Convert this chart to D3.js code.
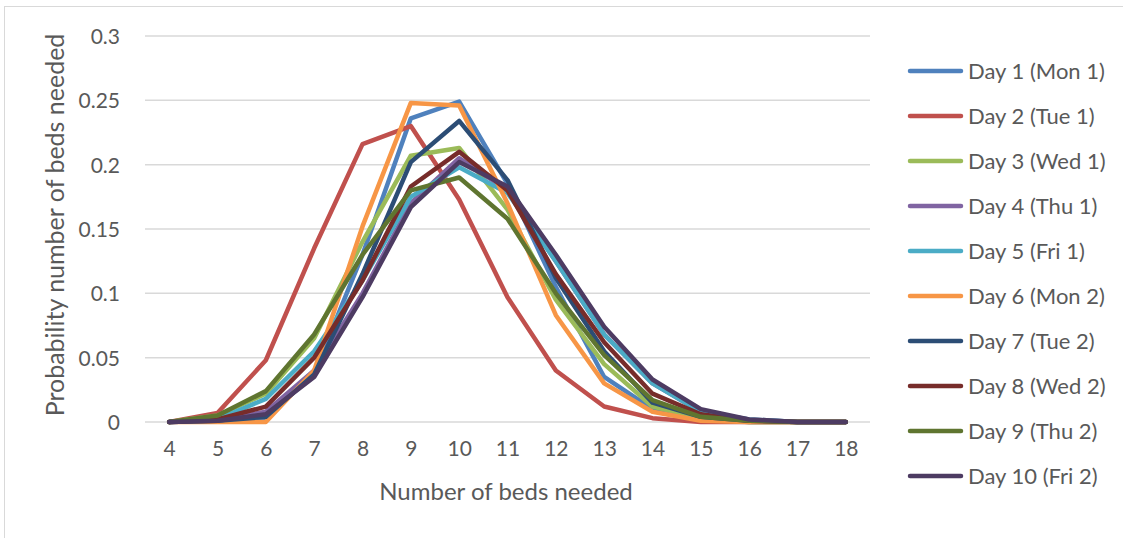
<!DOCTYPE html>
<html><head><meta charset="utf-8">
<script src="https://cdn.jsdelivr.net/npm/d3@7"></script>
<style>body{margin:0;background:#fff;} svg{display:block;} text{font-family:"Lato","Open Sans",sans-serif;fill:#595959;}</style>
</head><body>
<script>
const categories = [4,5,6,7,8,9,10,11,12,13,14,15,16,17,18];
const seriesNames = ["Day 1 (Mon 1)","Day 2 (Tue 1)","Day 3 (Wed 1)","Day 4 (Thu 1)","Day 5 (Fri 1)","Day 6 (Mon 2)","Day 7 (Tue 2)","Day 8 (Wed 2)","Day 9 (Thu 2)","Day 10 (Fri 2)"];
const colors = ["#4f81bd","#c0504d","#9bbb59","#8064a2","#4bacc6","#f79646","#2c4d75","#772c2a","#5f7530","#4d3b62"];
const day1  = [0,0.001,0.003,0.038,0.13,0.236,0.249,0.185,0.105,0.035,0.010,0.002,0,0,0];
const day2  = [0,0.007,0.048,0.135,0.216,0.230,0.173,0.097,0.040,0.012,0.003,0,0,0,0];
const day3  = [0,0.005,0.022,0.065,0.140,0.207,0.213,0.165,0.095,0.045,0.012,0.003,0,0,0];
const day4  = [0,0.001,0.008,0.040,0.100,0.170,0.205,0.180,0.125,0.068,0.030,0.008,0.002,0,0];
const day5  = [0,0.002,0.018,0.055,0.110,0.175,0.198,0.178,0.125,0.068,0.030,0.008,0.002,0,0];
const day6  = [0,0,0,0.040,0.152,0.248,0.246,0.170,0.083,0.030,0.008,0.001,0,0,0];
const day7  = [0,0.001,0.004,0.037,0.115,0.202,0.234,0.188,0.112,0.055,0.015,0.004,0.001,0,0];
const day8  = [0,0.002,0.012,0.050,0.110,0.183,0.210,0.180,0.115,0.062,0.022,0.006,0.001,0,0];
const day9  = [0,0.005,0.024,0.068,0.130,0.180,0.190,0.158,0.100,0.052,0.017,0.004,0.001,0,0];
const day10 = [0,0.001,0.006,0.035,0.097,0.167,0.202,0.183,0.130,0.074,0.033,0.010,0.002,0,0];
const seriesValues = [day1,day2,day3,day4,day5,day6,day7,day8,day9,day10];
const yTicks = [0,0.05,0.1,0.15,0.2,0.25,0.3];
const yTickLabels = ["0","0.05","0.1","0.15","0.2","0.25","0.3"];

const W=1123,H=538;
const svg=d3.select("body").append("svg").attr("width",W).attr("height",H);
svg.append("rect").attr("x",4.5).attr("y",6.5).attr("width",W+10).attr("height",H+10).attr("fill","#fff").attr("stroke","#d9d9d9").attr("stroke-width",1);

const plot={left:145,right:870,top:36,bottom:422};
const x=d3.scalePoint().domain(categories).range([plot.left,plot.right]).padding(0.5);
const y=d3.scaleLinear().domain([0,0.3]).range([plot.bottom,plot.top]);

// gridlines
svg.append("g").selectAll("line").data(yTicks).join("line")
  .attr("x1",plot.left).attr("x2",plot.right)
  .attr("y1",d=>y(d)).attr("y2",d=>y(d))
  .attr("stroke","#d9d9d9").attr("stroke-width",1.5);

// y axis labels
const yAxis=d3.axisLeft(y).tickValues(yTicks).tickFormat((d,i)=>yTickLabels[i]).tickSize(0).tickPadding(0);
const yg=svg.append("g").attr("transform",`translate(${120},0)`).call(yAxis);
yg.select(".domain").remove();
yg.selectAll("text").style("font-size","21px").attr("fill","#595959").attr("dy","0.35em");

// x axis labels
const xAxis=d3.axisBottom(x).tickSize(0).tickPadding(0);
const xg=svg.append("g").attr("transform",`translate(0,${441})`).call(xAxis);
xg.select(".domain").remove();
xg.selectAll("text").style("font-size","21px").attr("fill","#595959").attr("dy","0.71em");

// axis titles
svg.append("text").attr("x",506).attr("y",500).attr("text-anchor","middle").style("font-size","24px").text("Number of beds needed");
svg.append("text").attr("transform","translate(64,225) rotate(-90)").attr("text-anchor","middle").style("font-size","25px").text("Probability number of beds needed");

// lines
const line=d3.line().x((d,i)=>x(categories[i])).y(d=>y(d));
svg.append("g").selectAll("path").data(seriesValues).join("path")
  .attr("d",line).attr("fill","none")
  .attr("stroke",(d,i)=>colors[i]).attr("stroke-width",4.5)
  .attr("stroke-linejoin","round").attr("stroke-linecap","round");

// legend
const lg=svg.append("g").selectAll("g").data(seriesNames).join("g")
  .attr("transform",(d,i)=>`translate(0,${71+i*45})`);
lg.append("line").attr("x1",910).attr("x2",961).attr("y1",0).attr("y2",0)
  .attr("stroke",(d,i)=>colors[i]).attr("stroke-width",4.5).attr("stroke-linecap","round");
lg.append("text").attr("x",968).attr("y",0).attr("dy","0.35em").style("font-size","22px").text(d=>d);
</script>
</body></html>
